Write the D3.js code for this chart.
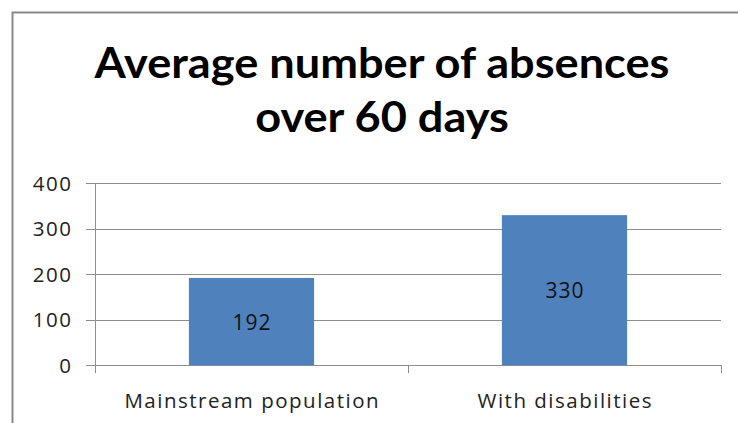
<!DOCTYPE html>
<html><head><meta charset="utf-8">
<script src="https://cdn.jsdelivr.net/npm/d3@7"></script>
<style>body{margin:0;background:#fff}svg{display:block}text{font-family:"Open Sans",Lato,sans-serif}</style>
</head><body>
<svg id="c" width="738" height="423"></svg>
<script>
const categories = ["Mainstream population", "With disabilities"];
const values = [192, 330];
const yTicks = [0, 100, 200, 300, 400];
const titleLines = ["Average number of absences", "over 60 days"];

const svg = d3.select("#c");
const m = {left: 95, right: 721, top: 183.3, bottom: 365.3};

// outer frame
svg.append("path").attr("d", "M12.5,423V12.5H738").attr("fill", "none").attr("stroke", "#898989").attr("stroke-width", 2);

const x = d3.scaleBand().domain(categories).range([m.left, m.right]).paddingInner(0.6).paddingOuter(0.3);
const y = d3.scaleLinear().domain([0, 400]).range([m.bottom, m.top]);

// gridlines
svg.append("g").selectAll("line").data(yTicks).join("line")
  .attr("x1", m.left - 9).attr("x2", m.right)
  .attr("y1", d => Math.round(y(d)) + 0.5).attr("y2", d => Math.round(y(d)) + 0.5)
  .attr("stroke", "#8e8e8e").attr("stroke-width", 1);

// y axis line
svg.append("line").attr("x1", m.left + 0.5).attr("x2", m.left + 0.5)
  .attr("y1", Math.round(y(400))).attr("y2", Math.round(y(0)) + 8)
  .attr("stroke", "#8e8e8e");

// category ticks
const catEdges = categories.map((c, i) => m.left + (i + 1) * (m.right - m.left) / categories.length);
svg.append("g").selectAll("line").data(catEdges).join("line")
  .attr("x1", d => Math.round(d) + 0.5).attr("x2", d => Math.round(d) + 0.5)
  .attr("y1", Math.round(y(0))).attr("y2", Math.round(y(0)) + 8)
  .attr("stroke", "#8e8e8e");

// bars
svg.append("g").selectAll("rect").data(values).join("rect")
  .attr("x", (d, i) => x(categories[i]))
  .attr("width", x.bandwidth())
  .attr("y", d => y(d))
  .attr("height", d => y(0) - y(d))
  .attr("fill", "#4f81bd");

// bar labels
svg.append("g").selectAll("text").data(values).join("text")
  .attr("x", (d, i) => x(categories[i]) + x.bandwidth() / 2 + 0.5)
  .attr("y", d => (y(d) + y(0)) / 2 + 8)
  .attr("text-anchor", "middle").attr("font-size", 21).attr("fill", "#111")
  .attr("letter-spacing", 1)
  .text(d => d);

// y tick labels
svg.append("g").selectAll("text").data(yTicks).join("text")
  .attr("x", 72.5).attr("y", d => y(d) + 7.5)
  .attr("text-anchor", "end").attr("font-size", 20.5).attr("fill", "#222")
  .attr("letter-spacing", 1.5)
  .text(d => d);

// category labels
svg.append("g").selectAll("text").data(categories).join("text")
  .attr("x", (d, i) => m.left + (i + 0.5) * (m.right - m.left) / categories.length + 0.75)
  .attr("y", 408)
  .attr("text-anchor", "middle").attr("font-size", 20.5).attr("fill", "#222")
  .attr("letter-spacing", 1.5)
  .text(d => d);

// title
svg.append("g").attr("transform", "translate(382,0) scale(1.075,1)")
  .selectAll("text").data(titleLines).join("text")
  .attr("x", 0).attr("y", (d, i) => 78 + i * 54)
  .attr("text-anchor", "middle").attr("font-size", 42).attr("font-weight", "bold").attr("fill", "#000")
  .style("font-family", "Lato, sans-serif")
  .text(d => d);
</script>
</body></html>
